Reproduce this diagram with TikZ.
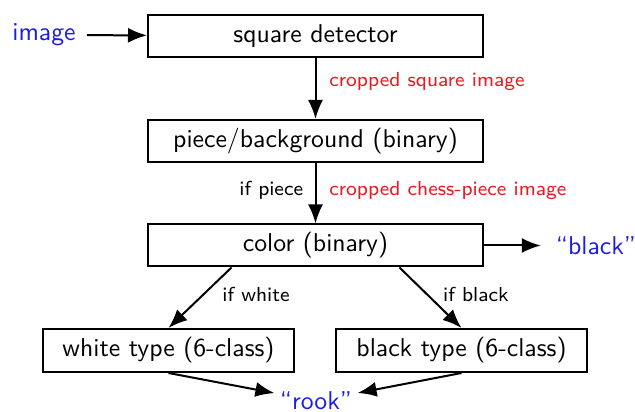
\documentclass[tikz,border=0pt]{standalone}
\usepackage{tikz}
\usetikzlibrary{arrows.meta, positioning}
\definecolor{LabelRed}{RGB}{232, 28, 36}
\definecolor{OutBlue}{RGB}{28, 28, 232}

\begin{document}
\begin{tikzpicture}[x=0.4pt, y=-0.4pt, >={Latex[length=7.6pt, width=6pt]},
        every node/.style={font=\sffamily\fontsize{10.3}{12}\selectfont},
        stage/.style={draw, line width=0.8pt, minimum width=134pt, minimum height=16.8pt, inner sep=0pt},
        typebox/.style={stage, minimum width=100.4pt, minimum height=17.2pt},
        io/.style={text=OutBlue},
        note/.style={font=\sffamily\fontsize{8.1}{10}\selectfont},
        flow/.style={->, line width=0.8pt}]
        \useasboundingbox (0,0) rectangle (635,412);
        \node[stage] (detector) at (315.5,36) {square detector};
        \node[stage] (piece) at (315.5,141) {piece/background (binary)};
        \node[stage] (color) at (315.5,245.5) {color (binary)};
        \node[typebox] (white) at (168.5,350.5) {white type (6-class)};
        \node[typebox] (black) at (461.5,350.5) {black type (6-class)};
        \node[io] (image) at (44,35) {image};
        \node[io] (answer) at (596,245.5) {``black''};
        \node[io, inner sep=2pt] (rook) at (316,401) {``rook''};
        \draw[flow, shorten <=1pt] (image) -- (detector);
        \draw[flow] (detector) -- node[note, text=LabelRed, right=1.8pt, pos=0.38] {cropped square image} (piece);
        \draw[flow] (piece) -- node[note, left=1.2pt, pos=0.45] {if piece}
            node[note, text=LabelRed, right=1.8pt, pos=0.45] {cropped chess-piece image} (color);
        \draw[flow, shorten >=2.5pt] (color) -- (answer);
        \draw[flow] ([xshift=-33.6pt]color.south) -- node[note, right=4pt, pos=0.45] {if white} (white.north);
        \draw[flow] ([xshift=33.6pt]color.south) -- node[note, right=2.6pt, pos=0.45] {if black} (black.north);
        \draw[flow] (white.south) -- (rook);
        \draw[flow] (black.south) -- (rook);
    \end{tikzpicture}
\end{document}
